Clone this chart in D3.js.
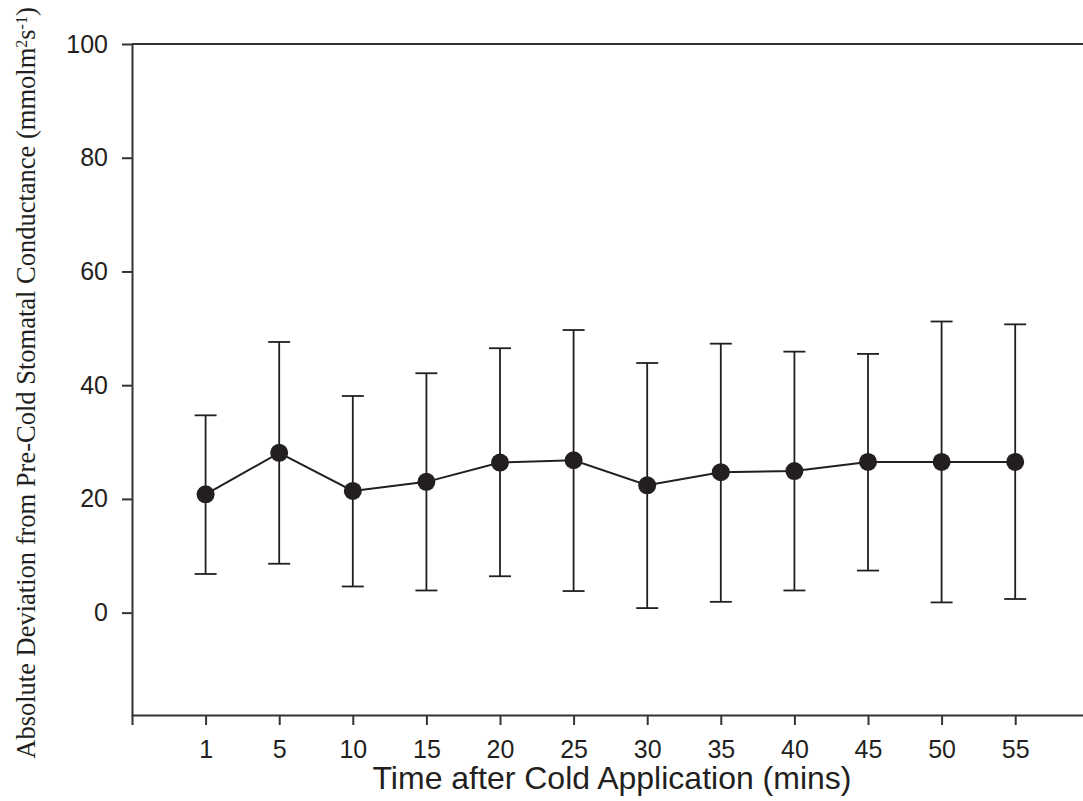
<!DOCTYPE html>
<html>
<head>
<meta charset="utf-8">
<script src="https://cdn.jsdelivr.net/npm/d3@7"></script>
<style>
  body { margin: 0; background: #fff; }
  svg { display: block; }
</style>
</head>
<body>
<svg id="chart"></svg>
<script>
// data
const times = ["1", "5", "10", "15", "20", "25", "30", "35", "40", "45", "50", "55"];
const means = [20.8, 28.1, 21.4, 23.0, 26.4, 26.8, 22.4, 24.7, 24.9, 26.5, 26.5, 26.5];
const upper = [34.7, 47.6, 38.1, 42.1, 46.5, 49.7, 43.9, 47.3, 45.9, 45.5, 51.2, 50.7];
const lower = [6.8, 8.6, 4.6, 3.9, 6.4, 3.8, 0.8, 1.9, 3.9, 7.4, 1.8, 2.4];
const yTicks = [0, 20, 40, 60, 80, 100];

const W = 1083, H = 801;
const margin = {top: 44, left: 132, bottom: 86};
const ink = "#231f20";
const axisInk = "#333";

const svg = d3.select("#chart").attr("width", W).attr("height", H);

const x = d3.scaleLinear().domain([0, 13]).range([margin.left, margin.left + 13 * 73.6]);
const y = d3.scaleLinear().domain([-18, 100]).range([H - margin.bottom, margin.top]);

const data = times.map((t, i) => ({i: i + 1, t: t, m: means[i], hi: upper[i], lo: lower[i]}));

// axes
const xAxis = svg.append("g")
    .attr("transform", `translate(0,${y(-18)})`)
    .call(d3.axisBottom(x)
        .tickValues(data.map(d => d.i))
        .tickFormat(i => times[i - 1])
        .tickSize(10).tickSizeOuter(10).tickPadding(15));

const yAxis = svg.append("g")
    .attr("transform", `translate(${margin.left},0)`)
    .call(d3.axisLeft(y).tickValues(yTicks).tickSize(10).tickSizeOuter(0).tickPadding(14));

[xAxis, yAxis].forEach(a => {
    a.selectAll("path, line").attr("stroke", axisInk).attr("stroke-width", 2);
    a.selectAll("text")
        .attr("fill", ink)
        .style("font-family", "'Liberation Sans', Arial, sans-serif")
        .style("font-size", "25px");
});

// top border
svg.append("line")
    .attr("x1", margin.left).attr("x2", W)
    .attr("y1", y(100)).attr("y2", y(100))
    .attr("stroke", axisInk).attr("stroke-width", 2);

// error bars
const bars = svg.append("g").attr("stroke", ink).attr("stroke-width", 1.8);
bars.selectAll(".stem").data(data).enter().append("line")
    .attr("x1", d => x(d.i)).attr("x2", d => x(d.i))
    .attr("y1", d => y(d.lo)).attr("y2", d => y(d.hi));
bars.selectAll(".capHi").data(data).enter().append("line")
    .attr("x1", d => x(d.i) - 11).attr("x2", d => x(d.i) + 11)
    .attr("y1", d => y(d.hi)).attr("y2", d => y(d.hi));
bars.selectAll(".capLo").data(data).enter().append("line")
    .attr("x1", d => x(d.i) - 11).attr("x2", d => x(d.i) + 11)
    .attr("y1", d => y(d.lo)).attr("y2", d => y(d.lo));

// mean line
svg.append("path")
    .datum(data)
    .attr("fill", "none")
    .attr("stroke", ink)
    .attr("stroke-width", 2)
    .attr("d", d3.line().x(d => x(d.i)).y(d => y(d.m)));

svg.selectAll(".dot").data(data).enter().append("circle")
    .attr("cx", d => x(d.i)).attr("cy", d => y(d.m))
    .attr("r", 9)
    .attr("fill", ink);

// axis titles
svg.append("text")
    .attr("x", 612).attr("y", 789)
    .attr("text-anchor", "middle")
    .attr("fill", ink)
    .style("font-family", "'Liberation Sans', Arial, sans-serif")
    .style("font-size", "32px")
    .text("Time after Cold Application (mins)");

const yt = svg.append("text")
    .attr("transform", `translate(35,383) rotate(-90)`)
    .attr("text-anchor", "middle")
    .attr("fill", ink)
    .style("font-family", "'Liberation Serif', 'Times New Roman', serif")
    .style("font-size", "26.5px");
yt.append("tspan").text("Absolute Deviation from Pre-Cold Stomatal Conductance (mmolm");
yt.append("tspan").attr("baseline-shift", "super").style("font-size", "16px").text("2");
yt.append("tspan").text("s");
yt.append("tspan").attr("baseline-shift", "super").style("font-size", "16px").text("-1");
yt.append("tspan").text(")");
</script>
</body>
</html>
